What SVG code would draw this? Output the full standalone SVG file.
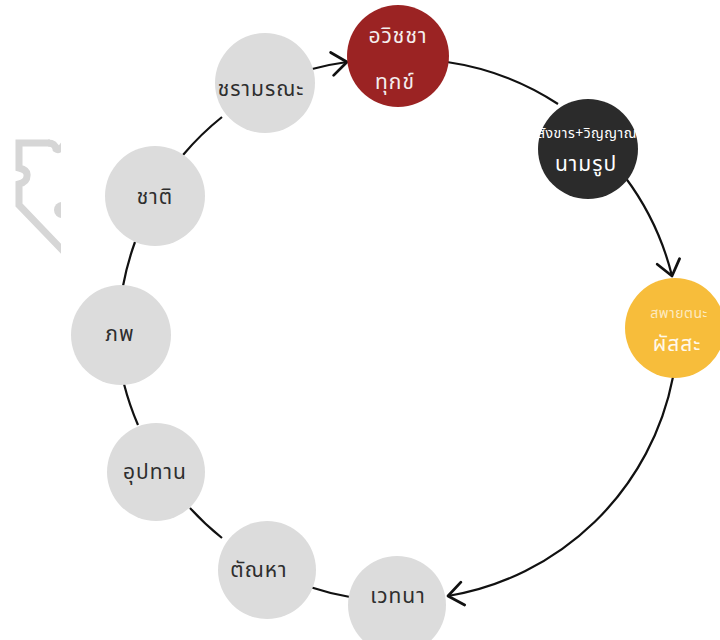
<svg xmlns="http://www.w3.org/2000/svg" width="720" height="640" viewBox="0 0 720 640">
<defs>
<style>
.conn{fill:none;stroke:#111;stroke-width:2.2;}
.node-g{fill:#dcdcdc;}
.lbl{font-family:"Noto Sans Thai","Noto Sans","DejaVu Sans",sans-serif;font-size:21px;letter-spacing:1px;text-anchor:middle;}
.dark-t{fill:#2e2e2e;}
.light-t{fill:#f4eeee;}
.small{font-size:14px;letter-spacing:0.5px;}
</style>
<marker id="arr" markerUnits="userSpaceOnUse" markerWidth="30" markerHeight="30" viewBox="-16 -13 20 26" refX="0" refY="0" orient="auto">
<path d="M -13 -10 L 0 0 L -13 10" fill="none" stroke="#111" stroke-width="2.4" stroke-linecap="round" stroke-linejoin="round"/>
</marker>
<clipPath id="logoclip"><rect x="0" y="0" width="61" height="640"/></clipPath>
</defs>
<rect width="720" height="640" fill="#ffffff"/>
<g id="logo" clip-path="url(#logoclip)" fill="none" stroke="#d6d6d6" stroke-width="7">
<path d="M 50 143 L 19 143 L 19 168 Q 28 170 27 176 Q 27 182 19 184 L 19 205 L 66 254"/>
<path d="M 48 143 Q 55 143 56 149 Q 60 152 66 141"/>
<circle cx="62" cy="210" r="8" fill="#d6d6d6" stroke="none"/>
</g>
<g id="connectors">
<path class="conn" d="M 447 62 A 275 275 0 0 1 558 104"/>
<path class="conn" d="M 625 177 A 275 275 0 0 1 672 276" marker-end="url(#arr)"/>
<path class="conn" d="M 673 377 A 275 275 0 0 1 448 596" marker-end="url(#arr)"/>
<path class="conn" d="M 350 597 A 275 275 0 0 1 310 587"/>
<path class="conn" d="M 222 538 A 275 275 0 0 1 190 508"/>
<path class="conn" d="M 138 425 A 275 275 0 0 1 124 384"/>
<path class="conn" d="M 123 286 A 275 275 0 0 1 135 242"/>
<path class="conn" d="M 183 155 A 275 275 0 0 1 222 117"/>
<path class="conn" d="M 308 70 A 275 275 0 0 1 347 62" marker-end="url(#arr)"/>
</g>
<g id="node-avijja">
<circle cx="398" cy="56" r="51" fill="#9b2323"/>
<text class="lbl light-t" x="398" y="43">อวิชชา</text>
<text class="lbl light-t" x="395" y="89">ทุกข์</text>
</g>
<g id="node-namarupa">
<circle cx="588" cy="149" r="50" fill="#2b2b2b"/>
<text class="lbl small" x="587" y="138" fill="#ffffff">สังขาร+วิญญาณ</text>
<text class="lbl" x="586" y="171" fill="#ffffff">นามรูป</text>
</g>
<g id="node-phassa">
<circle cx="675" cy="328" r="50" fill="#f7bd3b"/>
<text class="lbl small" x="679" y="318" fill="#fdeac0">สพายตนะ</text>
<text class="lbl" x="677" y="351" fill="#fff8ea">ผัสสะ</text>
</g>
<g id="node-vedana">
<circle class="node-g" cx="397" cy="605" r="49"/>
<text class="lbl dark-t" x="398" y="603">เวทนา</text>
</g>
<g id="node-tanha">
<circle class="node-g" cx="267" cy="570" r="49"/>
<text class="lbl dark-t" x="259" y="577">ตัณหา</text>
</g>
<g id="node-upadana">
<circle class="node-g" cx="156" cy="472" r="49"/>
<text class="lbl dark-t" x="155" y="479">อุปทาน</text>
</g>
<g id="node-bhava">
<circle class="node-g" cx="121" cy="335" r="50"/>
<text class="lbl dark-t" x="120" y="341">ภพ</text>
</g>
<g id="node-jati">
<circle class="node-g" cx="155" cy="196" r="50"/>
<text class="lbl dark-t" x="155" y="204">ชาติ</text>
</g>
<g id="node-jaramarana">
<circle class="node-g" cx="265" cy="83" r="50"/>
<text class="lbl dark-t" x="261" y="96">ชรามรณะ</text>
</g>
</svg>
